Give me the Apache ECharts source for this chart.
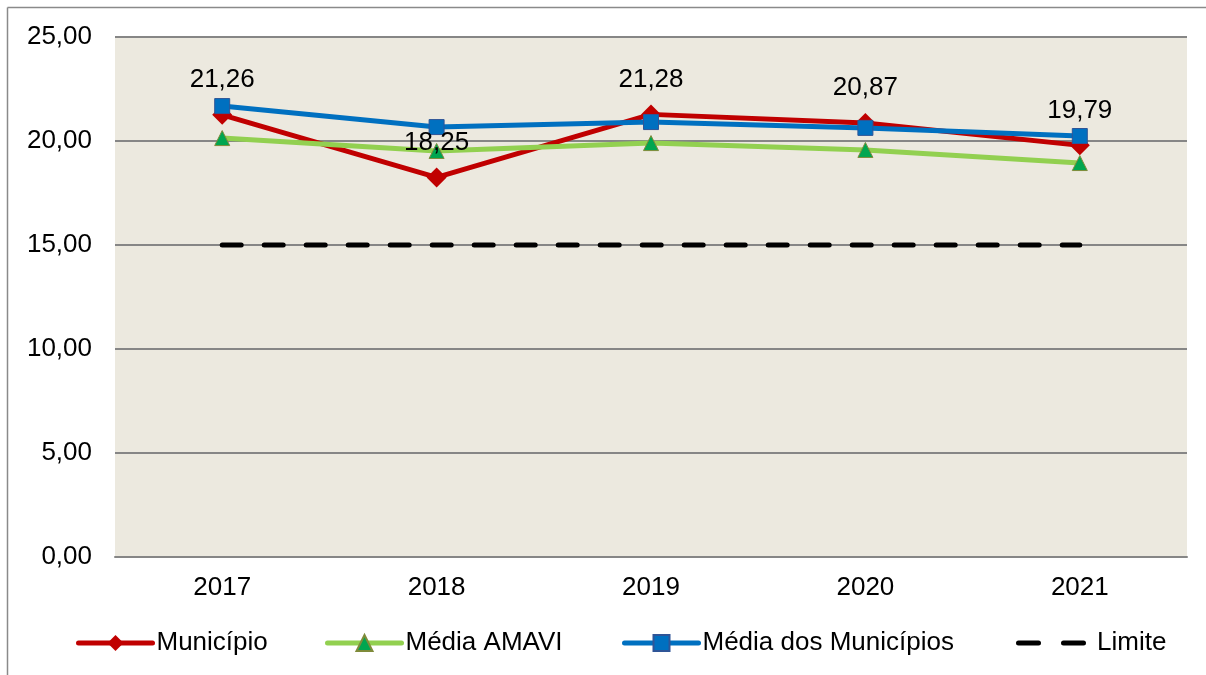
<!DOCTYPE html>
<html>
<head>
<meta charset="utf-8">
<script src="https://cdn.jsdelivr.net/npm/echarts@6/dist/echarts.min.js"></script>
<style>
html,body{margin:0;padding:0;background:#fff;}
#chart{width:1206px;height:675px;}
</style>
</head>
<body>
<div id="chart"></div>
<script>
const categories = ['2017', '2018', '2019', '2020', '2021'];
const municipio = [21.26, 18.25, 21.28, 20.87, 19.79];
const mediaAmavi = [20.14, 19.52, 19.90, 19.57, 18.94];
const mediaMunicipios = [21.68, 20.67, 20.91, 20.63, 20.24];
const limite = [15, 15, 15, 15, 15];
const seriesNames = ['Município', 'Média AMAVI', 'Média dos Municípios', 'Limite'];

const fmt = v => v.toFixed(2).replace('.', ',');
const FONT = 'Liberation Sans, Arial, sans-serif';
const FS = 26;

function legendFor(name, left, extra) {
  return Object.assign({
    left: left, top: 630, padding: 0,
    itemWidth: 74, itemHeight: 20, itemGap: 0,
    selectedMode: false,
    lineStyle: { width: 5, cap: 'round' },
    textStyle: { fontSize: FS, color: '#000', fontFamily: FONT, padding: [0, 0, 0, -1] },
    data: [name]
  }, extra || {});
}

const chart = echarts.init(document.getElementById('chart'));
chart.setOption({
  backgroundColor: '#ffffff',
  animation: false,
  textStyle: { fontFamily: FONT },
  grid: {
    left: 115, right: 19, top: 37, bottom: 118,
    show: true, backgroundColor: '#ECE9DF', borderWidth: 0
  },
  graphic: [
    { type: 'line', shape: { x1: 7.5, y1: 7.5, x2: 7.5, y2: 675 }, style: { stroke: '#8a8a8a', lineWidth: 1.5 }, silent: true },
    { type: 'line', shape: { x1: 7.5, y1: 7.5, x2: 1206, y2: 7.5 }, style: { stroke: '#8a8a8a', lineWidth: 1.5 }, silent: true }
  ],
  legend: [
    legendFor(seriesNames[0], 76),
    legendFor(seriesNames[1], 325),
    legendFor(seriesNames[2], 622),
    legendFor(seriesNames[3], 1016, {
      itemWidth: 70, itemHeight: 5,
      textStyle: { fontSize: FS, color: '#000', fontFamily: FONT, padding: [0, 0, 0, 6] },
      data: [{
        name: seriesNames[3],
        icon: 'path://M2.5,0H22.5A2.5,2.5,0,0,1,22.5,5H2.5A2.5,2.5,0,0,1,2.5,0Z M47.5,0H67.5A2.5,2.5,0,0,1,67.5,5H47.5A2.5,2.5,0,0,1,47.5,0Z',
        itemStyle: { color: '#000' }
      }]
    })
  ],
  xAxis: {
    type: 'category',
    data: categories,
    boundaryGap: true,
    axisLine: { lineStyle: { color: '#868686', width: 2 } },
    axisTick: { show: false },
    axisLabel: { fontSize: FS, color: '#000', margin: 18, fontFamily: FONT },
    splitLine: { show: false }
  },
  yAxis: {
    type: 'value',
    min: 0, max: 25, interval: 5,
    axisLine: { show: false },
    axisTick: { show: false },
    axisLabel: { fontSize: FS, color: '#000', margin: 23, fontFamily: FONT, formatter: v => fmt(v) },
    splitLine: { lineStyle: { color: '#868686', width: 2 } }
  },
  series: [
    {
      name: seriesNames[0], type: 'line', data: municipio,
      symbol: 'diamond', symbolSize: 20,
      itemStyle: { color: '#C00000' },
      lineStyle: { color: '#C00000', width: 5 },
      z: 2
    },
    {
      name: seriesNames[1], type: 'line', data: mediaAmavi,
      symbol: 'triangle', symbolSize: 15,
      itemStyle: { color: '#00A650', borderColor: '#7F8B3A', borderWidth: 1 },
      lineStyle: { color: '#92D050', width: 5 },
      z: 3
    },
    {
      name: seriesNames[2], type: 'line', data: mediaMunicipios,
      symbol: 'rect', symbolSize: 15,
      itemStyle: { color: '#0070C0', borderColor: '#2F5597', borderWidth: 1 },
      lineStyle: { color: '#0070C0', width: 5 },
      z: 4
    },
    {
      name: seriesNames[3], type: 'line', data: limite,
      symbol: 'none',
      itemStyle: { color: '#000' },
      lineStyle: { color: '#000', width: 5, type: [19, 23], cap: 'round' },
      z: 5
    },
    {
      name: 'labels', type: 'line', data: municipio,
      symbol: 'diamond', symbolSize: 20, silent: true,
      itemStyle: { color: 'transparent', borderWidth: 0 },
      lineStyle: { color: 'transparent', width: 0 },
      label: { show: true, position: 'top', distance: 12, fontSize: FS, color: '#000', fontFamily: FONT, formatter: p => fmt(p.value) },
      z: 10
    }
  ]
});
</script>
</body>
</html>
